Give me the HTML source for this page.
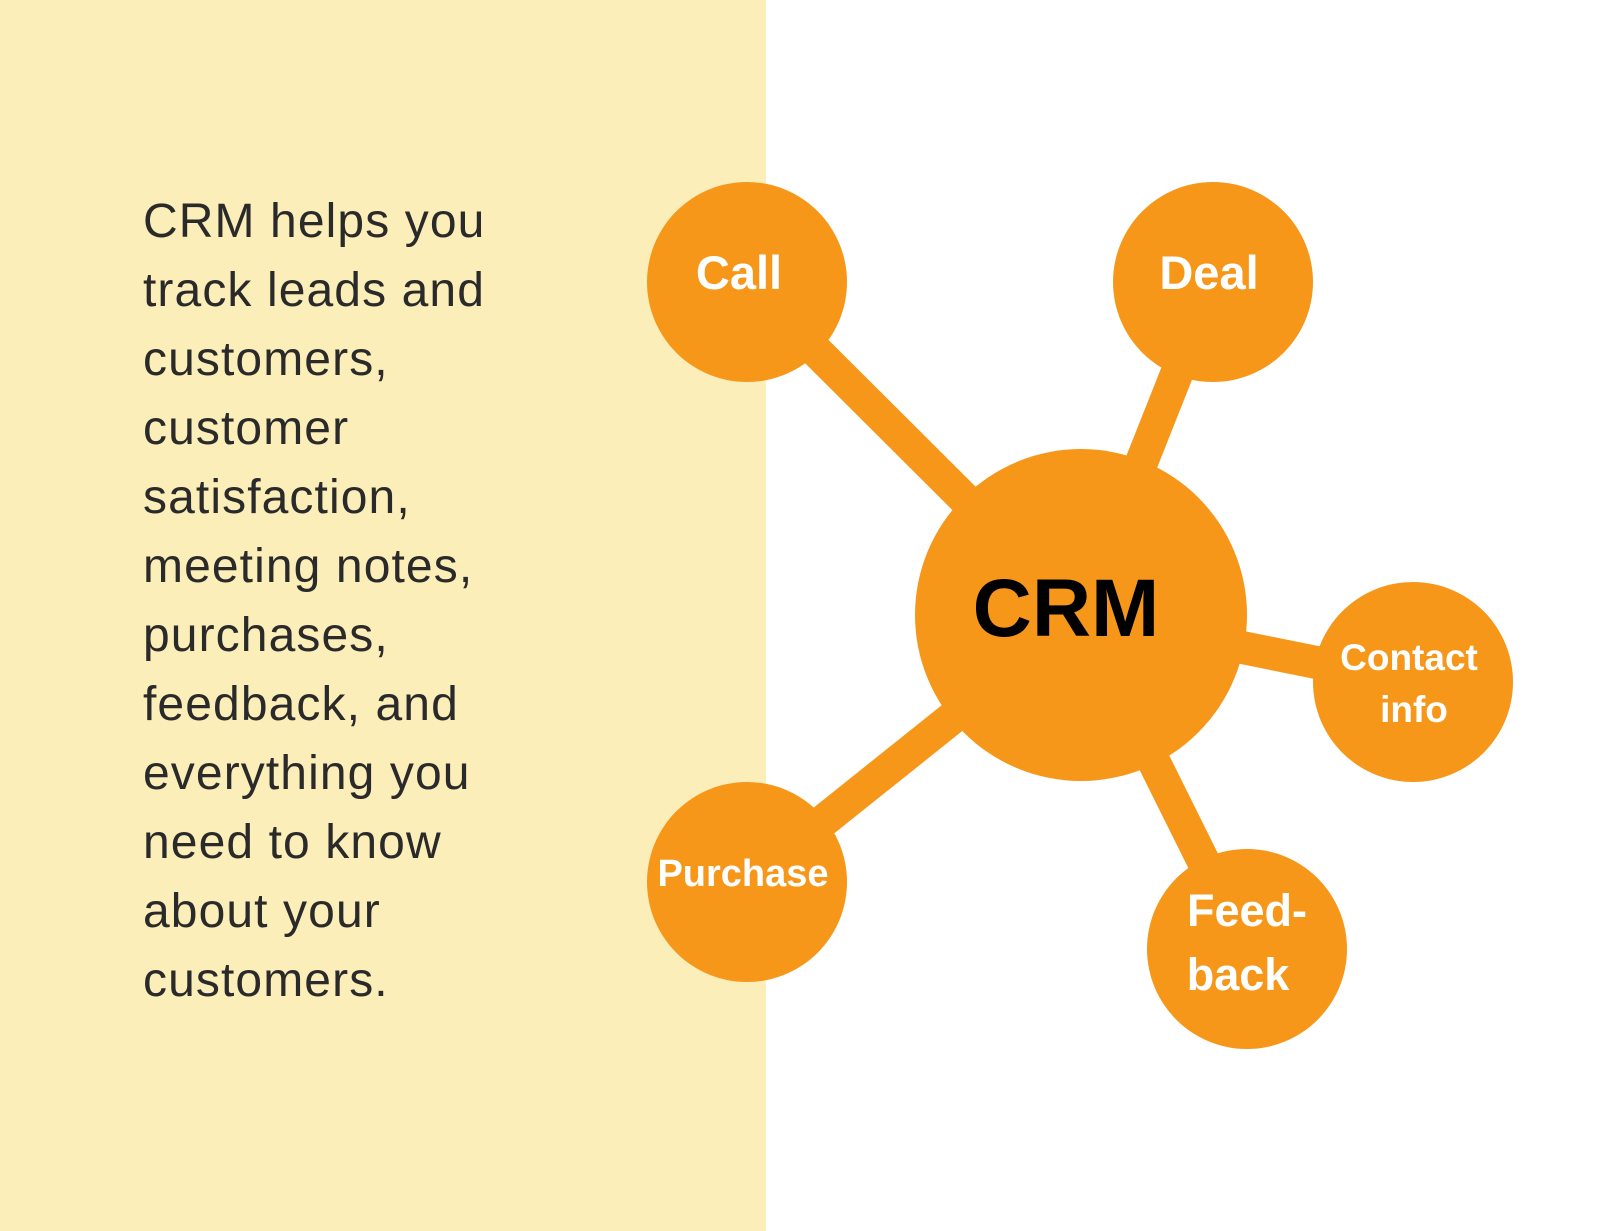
<!DOCTYPE html>
<html><head><meta charset="utf-8"><style>
html,body{margin:0;padding:0;width:1600px;height:1231px;overflow:hidden;background:#fff;}
.panel{position:absolute;left:0;top:0;width:766px;height:1231px;background:#FCEEB9;}
.txt{position:absolute;left:143px;top:187px;font-family:"Liberation Sans",sans-serif;font-size:48px;letter-spacing:1.1px;line-height:69px;color:#2a2a2a;white-space:pre;}
svg{position:absolute;left:0;top:0;}
</style></head><body>
<div class="panel"></div>
<div class="txt">CRM helps you
track leads and
customers,
customer
satisfaction,
meeting notes,
purchases,
feedback, and
everything you
need to know
about your
customers.</div>
<svg width="1600" height="1231" viewBox="0 0 1600 1231">
<g stroke="#F7971A" stroke-width="33">
<line x1="747" y1="282" x2="1081" y2="615"/>
<line x1="1213" y1="282" x2="1081" y2="615"/>
<line x1="1413" y1="682" x2="1081" y2="615"/>
<line x1="747" y1="882" x2="1081" y2="615"/>
<line x1="1247" y1="949" x2="1081" y2="615"/>
</g>
<g fill="#F7971A">
<circle cx="747" cy="282" r="100"/>
<circle cx="1213" cy="282" r="100"/>
<circle cx="1081" cy="615" r="166"/>
<circle cx="1413" cy="682" r="100"/>
<circle cx="747" cy="882" r="100"/>
<circle cx="1247" cy="949" r="100"/>
</g>
<g font-family="Liberation Sans, sans-serif" font-weight="bold" fill="#fff" text-anchor="middle">
<text x="739" y="289" font-size="47">Call</text>
<text x="1209" y="289" font-size="47">Deal</text>
<text x="1409" y="670" font-size="37">Contact</text>
<text x="1414" y="722" font-size="37">info</text>
<text x="743" y="886" font-size="38">Purchase</text>
<text x="1247" y="926" font-size="45">Feed-</text>
<text x="1238" y="990" font-size="45">back</text>
<text x="1066" y="636" font-size="82" fill="#000">CRM</text>
</g>
</svg>
</body></html>
